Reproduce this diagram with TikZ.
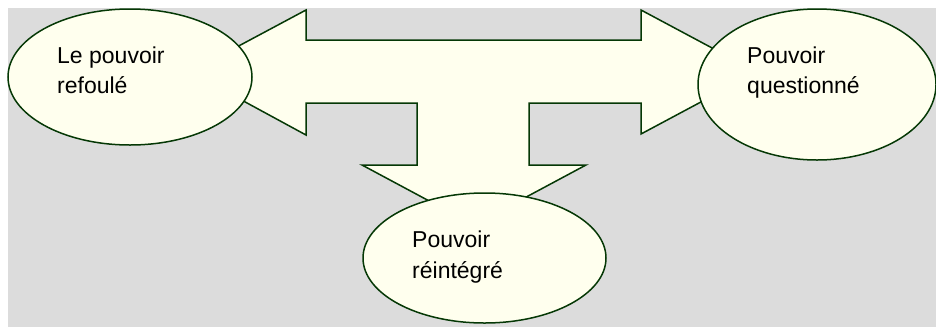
\documentclass[tikz,border=0pt]{standalone}
\usepackage{fontspec}
\setmainfont{Liberation Sans}
\usetikzlibrary{shapes.geometric}
\definecolor{bggray}{HTML}{DCDCDC}
\definecolor{cream}{HTML}{FFFFEE}
\definecolor{dkgreen}{HTML}{053805}
\begin{document}
\begin{tikzpicture}[x=1pt,y=-1pt,
  shapeline/.style={draw=dkgreen, line width=1.5pt, fill=cream, line join=miter},
  bubble/.style={shapeline, ellipse, inner sep=0pt},
  lbl/.style={anchor=base west, inner sep=0pt, font=\fontsize{23}{27}\selectfont, text=black}]
\useasboundingbox (0,0) rectangle (936,327);
\fill[bggray] (8,8) rectangle (936,327);
% T-shaped three-way arrow
\draw[shapeline] (306,40) -- (641,40) -- (641,10) -- (757,72) -- (641,134) -- (641,103)
  -- (529,103) -- (529,165) -- (586,165) -- (474,225) -- (362,165) -- (417,165)
  -- (417,103) -- (306,103) -- (306,135) -- (190,72) -- (306,10) -- cycle;
% ellipses
\node[bubble, minimum width=244pt, minimum height=136pt] (left) at (130,77) {};
\node[bubble, minimum width=238pt, minimum height=151pt] (right) at (817,84.5) {};
\node[bubble, minimum width=243pt, minimum height=130pt] (bottom) at (484.5,258) {};
% labels
\node[lbl] (l1) at (57,63) {Le pouvoir};
\node[lbl] (l2) at (57,93) {refoulé};
\node[lbl] (r1) at (747,63) {Pouvoir};
\node[lbl] (r2) at (747,93) {questionné};
\node[lbl] (b1) at (412,247) {Pouvoir};
\node[lbl] (b2) at (412,278) {réintégré};
\end{tikzpicture}
\end{document}
